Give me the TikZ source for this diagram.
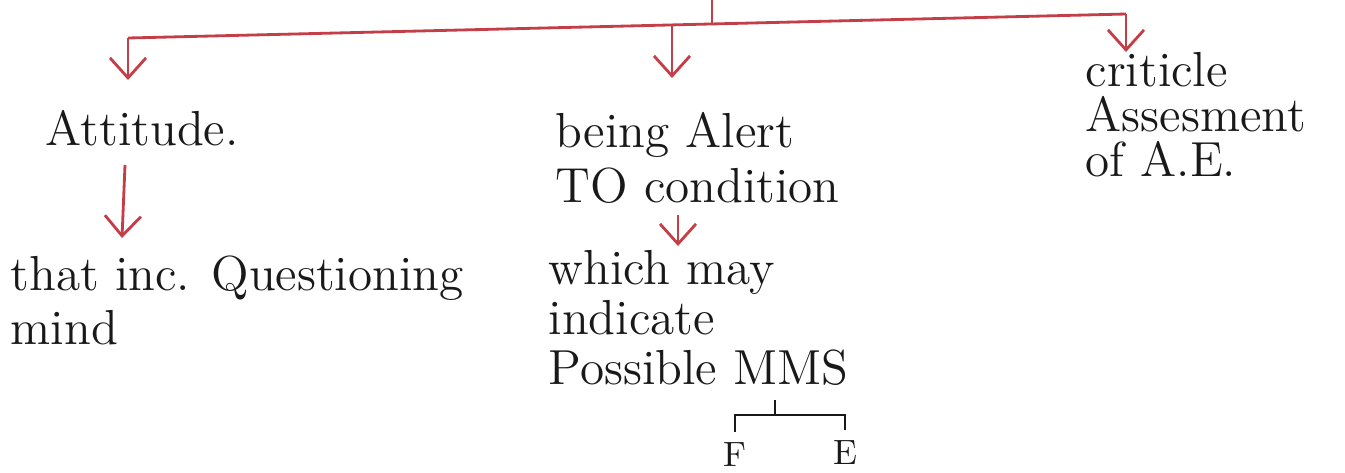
\documentclass[tikz,border=0pt]{standalone}
\usetikzlibrary{arrows.meta}

\definecolor{inkred}{RGB}{196,62,72}
\definecolor{inkblack}{RGB}{25,25,25}

\tikzset{
  note/.style={inner sep=0pt, anchor=north west, align=left, text=inkblack,
    font=\fontsize{14}{15.5}\selectfont},
  redarrow/.style={inkred, line width=0.8pt, -{Straight Barb[length=2mm,width=3.6mm]}},
  redline/.style={inkred, line width=0.8pt},
}

\begin{document}
\begin{tikzpicture}[x=0.01cm, y=-0.01cm]

  \useasboundingbox (0,0) rectangle (1345,472);

  % Red branching bar at the top
  \coordinate (top) at (712,0);
  \coordinate (barmid) at (712,24);
  \coordinate (barL) at (128,38);
  \coordinate (barR) at (1126,14);
  \coordinate (midstart) at (672,25);

  % Headings
  \node[note] (attitude) at (45,110) {Attitude.};
  \node[note] (alert) at (555,112) {being Alert\\TO condition};
  \node[note, font=\fontsize{14}{12.8}\selectfont] (criticle) at (1085,52)
    {criticle\\Assesment\\of A.E.};

  % Second row
  \node[note] (that) at (10,255) {that inc. Questioning\\mind};
  \node[note, font=\fontsize{14}{14.2}\selectfont] (which) at (548,250)
    {which may\\indicate\\Possible MMS};

  % F and E under MMS
  \node[inner sep=1pt, text=inkblack, font=\normalsize] (F) at (735,455) {F};
  \node[inner sep=1pt, text=inkblack, font=\normalsize] (E) at (845,453) {E};

  \draw[redline] (top) -- (barmid);
  \draw[redline] (barL) -- (barR);
  \draw[redarrow] (barL) -- ++(0,42);
  \draw[redarrow] (midstart) -- (672,78);
  \draw[redarrow] (barR) -- (barR |- criticle.north);

  % Attitude -> questioning mind
  \draw[redarrow] (125,165) -- (122,238);

  % condition -> which may
  \draw[redarrow] (678,215) -- (678,246);

  % Bracket under MMS
  \coordinate (fe) at (775,400);
  \draw[inkblack, line width=0.8pt] (fe) -- (775,415) -| ([yshift=2pt]F.north);
  \draw[inkblack, line width=0.8pt] (775,415) -| ([yshift=2pt]E.north);

\end{tikzpicture}
\end{document}
